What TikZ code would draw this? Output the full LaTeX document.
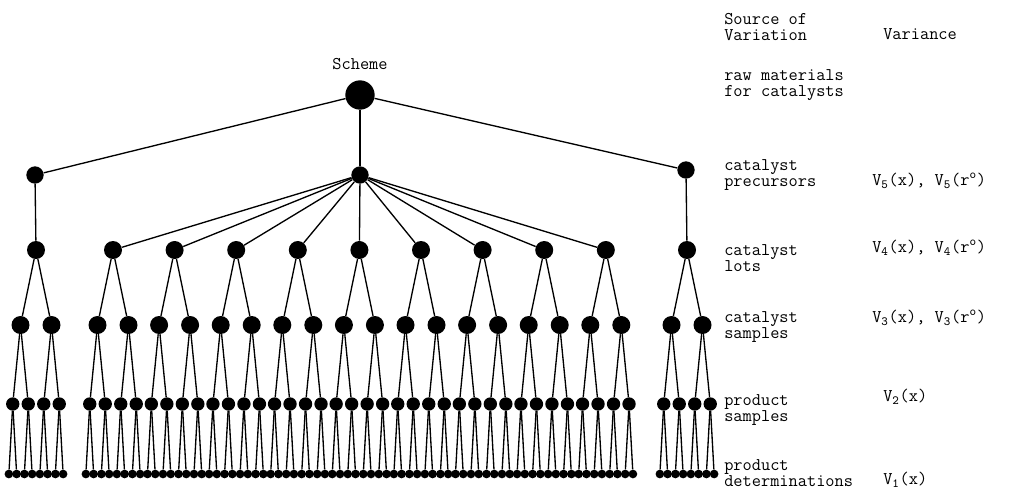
\documentclass[tikz,border=0pt]{standalone}
\usepackage{fontspec}
\usetikzlibrary{positioning}

\begin{document}
\begin{tikzpicture}[x=0.75pt, y=-0.75pt, font=\ttfamily\fontsize{13.4}{12.5}\selectfont,
        dot/.style={circle, fill=black, inner sep=0pt, minimum size=#1},
        link/.style={line width=1pt},
        lbl/.style={anchor=west, align=left, inner sep=0pt}]
        \useasboundingbox (0,0) rectangle (1014,490);
        \node[dot=22pt] (scheme) at (360,95) {};
        \node[above=4pt of scheme] (title) {Scheme};
        \foreach \k/\x/\y in {1/35/175,2/360/175,3/686/170}{\node[dot=13pt] (p\k) at (\x,\y) {}; \draw[link] (scheme) -- (p\k);}
        % lots, then samples, product samples and determinations under each lot
        \foreach \k/\x/\p in {0/36/1,1/113/2,2/174.6/2,3/236.2/2,4/297.8/2,5/359.4/2,6/421/2,7/482.6/2,8/544.2/2,9/605.8/2,10/687/3}{
            \node[dot=13.5pt] (l-\k) at (\x,250) {};
            \draw[link] (p\p) -- (l-\k);
            \foreach \na in {0,1}{
                \pgfmathsetmacro{\cx}{\x+31*\na-15.5}
                \node[dot=13.5pt] (c-\k-\na) at (\cx,325) {};
                \draw[link] (l-\k) -- (c-\k-\na);
                \foreach \nb in {0,1}{
                    \pgfmathsetmacro{\sx}{\cx+15.5*\nb-7.75}
                    \node[dot=10pt] (s-\k-\na-\nb) at (\sx,404) {};
                    \draw[link] (c-\k-\na) -- (s-\k-\na-\nb);
                    \foreach \nc in {0,1}{
                        \pgfmathsetmacro{\dx}{\sx+7.75*\nc-3.875}
                        \node[dot=6.5pt] (d-\k-\na-\nb-\nc) at (\dx,474) {};
                        \draw[link] (s-\k-\na-\nb) -- (d-\k-\na-\nb-\nc);
                    }}}}
        % source of variation column
        \foreach \y/\name in {27/{Source of\\Variation},85/{raw materials\\for catalysts},175/{catalyst\\precursors},258/{catalyst\\lots},327/{catalyst\\samples},410/{product\\samples},473/{product\\determinations}}{\node[lbl] at (724,\y) {\name};}
        % variance column
        \node[lbl] (var) at (883,34) {Variance};
        \node[lbl] (v5) at (872,181) {V\textsubscript{5}(x), V\textsubscript{5}(r\textsuperscript{o})};
        \node[lbl] (v4) at (872,248) {V\textsubscript{4}(x), V\textsubscript{4}(r\textsuperscript{o})};
        \node[lbl] (v3) at (872,318) {V\textsubscript{3}(x), V\textsubscript{3}(r\textsuperscript{o})};
        \node[lbl] (v2) at (883,397) {V\textsubscript{2}(x)};
        \node[lbl] (v1) at (883,480) {V\textsubscript{1}(x)};
\end{tikzpicture}
\end{document}
